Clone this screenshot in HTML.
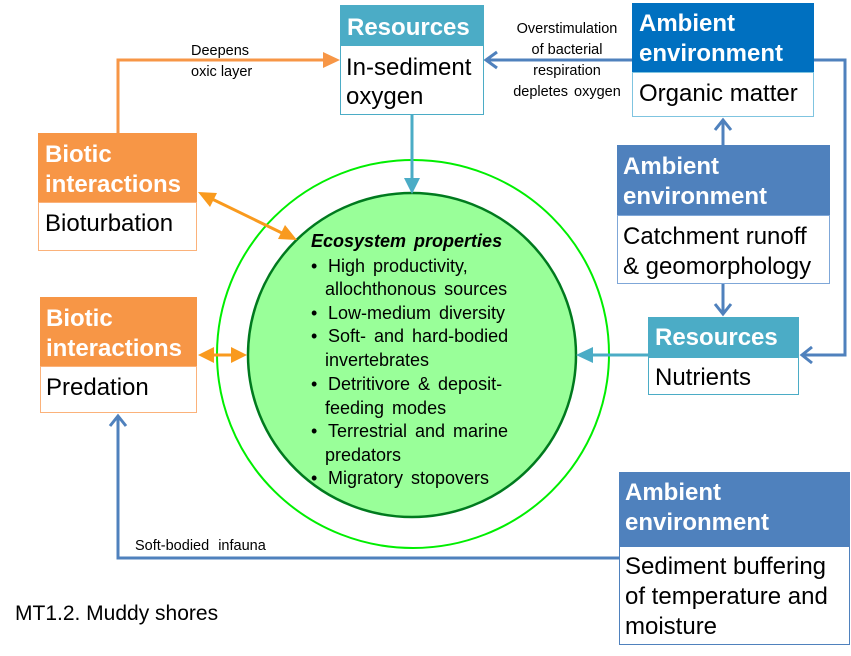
<!DOCTYPE html>
<html><head><meta charset="utf-8"><style>
body{margin:0;background:#fff}
svg{display:block}
.h{font-family:"Liberation Sans",sans-serif;font-weight:bold;font-size:24px;fill:#fff}
.b{font-family:"Liberation Sans",sans-serif;font-size:24px;fill:#000}
.s{font-family:"Liberation Sans",sans-serif;font-size:14.5px;fill:#000}
.e{font-family:"Liberation Sans",sans-serif;font-size:18px;fill:#000;word-spacing:3px}
</style></head><body>
<svg width="851" height="656" viewBox="0 0 851 656" xmlns="http://www.w3.org/2000/svg">
<ellipse cx="413" cy="354" rx="196" ry="194" fill="#fff" stroke="#00ee00" stroke-width="2"/>
<ellipse cx="412" cy="355" rx="164" ry="162" fill="#99ff99" stroke="#007a1e" stroke-width="2.5"/>
<g fill="none" stroke-width="3">
<polyline points="118,133 118,60 325,60" stroke="#f79646"/>
<polygon points="340,60 323,52 323,68" fill="#f79646" stroke="none"/>
<line x1="632" y1="60" x2="486" y2="60" stroke="#4f81bd"/>
<polyline points="497,52 486,60 497,68" stroke="#4f81bd"/>
<line x1="412" y1="114" x2="412" y2="180" stroke="#4bacc6"/>
<polygon points="412,194 404,178 420,178" fill="#4bacc6" stroke="none"/>
<line x1="723" y1="145" x2="723" y2="120" stroke="#4f81bd"/>
<polyline points="715,130 723,120 731,130" stroke="#4f81bd"/>
<line x1="723" y1="284" x2="723" y2="314" stroke="#4f81bd"/>
<polyline points="715,304 723,314 731,304" stroke="#4f81bd"/>
<polyline points="814,60 845,60 845,355 802,355" stroke="#4f81bd"/>
<polyline points="812,347 802,355 812,363" stroke="#4f81bd"/>
<line x1="648" y1="355" x2="590" y2="355" stroke="#4bacc6"/>
<polygon points="576,355 593,347 593,363" fill="#4bacc6" stroke="none"/>
<line x1="210" y1="198" x2="284" y2="234" stroke="#f99a1e"/>
<polygon points="198,192 217,193 210,207" fill="#f99a1e" stroke="none"/>
<polygon points="297,240 278,239 285,225" fill="#f99a1e" stroke="none"/>
<line x1="210" y1="355" x2="234" y2="355" stroke="#f99a1e"/>
<polygon points="198,355 214,347 214,363" fill="#f99a1e" stroke="none"/>
<polygon points="247,355 231,347 231,363" fill="#f99a1e" stroke="none"/>
<polyline points="619,558 118,558 118,416" stroke="#4f81bd"/>
<polyline points="110,426 118,416 126,426" stroke="#4f81bd"/>
</g>
<rect x="340.5" y="45.5" width="143" height="69" fill="#fff" stroke="#4bacc6"/>
<rect x="340" y="5" width="144" height="40" fill="#4bacc6"/>
<text class="h" x="347" y="35">Resources</text>
<text class="b" x="346" y="75">In-sediment</text>
<text class="b" x="346" y="104">oxygen</text>

<rect x="632.5" y="72.5" width="181" height="44" fill="#fff" stroke="#7fc4e0"/>
<rect x="632" y="3" width="182" height="69" fill="#0070c0"/>
<text class="h" x="639" y="31">Ambient</text>
<text class="h" x="639" y="61">environment</text>
<text class="b" x="639" y="101">Organic matter</text>

<rect x="617.5" y="215.5" width="212" height="68" fill="#fff" stroke="#7fa7d8"/>
<rect x="617" y="145" width="213" height="70" fill="#4f81bd"/>
<text class="h" x="623" y="174">Ambient</text>
<text class="h" x="623" y="204">environment</text>
<text class="b" x="623" y="244">Catchment runoff</text>
<text class="b" x="623" y="274">&amp; geomorphology</text>

<rect x="648.5" y="357.5" width="150" height="37" fill="#fff" stroke="#4bacc6"/>
<rect x="648" y="317" width="151" height="40" fill="#4bacc6"/>
<text class="h" x="655" y="345">Resources</text>
<text class="b" x="655" y="385">Nutrients</text>

<rect x="619.5" y="546.5" width="230" height="98" fill="#fff" stroke="#4f81bd"/>
<rect x="619" y="472" width="231" height="74" fill="#4f81bd"/>
<text class="h" x="625" y="500">Ambient</text>
<text class="h" x="625" y="530">environment</text>
<text class="b" x="625" y="574">Sediment buffering</text>
<text class="b" x="625" y="604">of temperature and</text>
<text class="b" x="625" y="634">moisture</text>

<rect x="38.5" y="202.5" width="158" height="48" fill="#fff" stroke="#fbb27a"/>
<rect x="38" y="133" width="159" height="69" fill="#f79646"/>
<text class="h" x="45" y="162">Biotic</text>
<text class="h" x="45" y="192">interactions</text>
<text class="b" x="45" y="231">Bioturbation</text>

<rect x="40.5" y="366.5" width="156" height="46" fill="#fff" stroke="#fbb27a"/>
<rect x="40" y="297" width="157" height="69" fill="#f79646"/>
<text class="h" x="46" y="326">Biotic</text>
<text class="h" x="46" y="356">interactions</text>
<text class="b" x="46" y="395">Predation</text>

<text class="s" x="191" y="55">Deepens</text>
<text class="s" x="191" y="76">oxic layer</text>
<text class="s" x="567" y="33" text-anchor="middle">Overstimulation</text>
<text class="s" x="567" y="54" text-anchor="middle">of bacterial</text>
<text class="s" x="567" y="75" text-anchor="middle">respiration</text>
<text class="s" x="567" y="96" text-anchor="middle" style="word-spacing:2px">depletes oxygen</text>
<text class="s" x="135" y="550" style="word-spacing:5px">Soft-bodied infauna</text>
<text x="15" y="620" style="font-family:'Liberation Sans',sans-serif;font-size:21px">MT1.2. Muddy shores</text>

<text class="e" x="311" y="247" style="font-weight:bold;font-style:italic">Ecosystem properties</text>
<text class="e" x="311" y="272">•</text><text class="e" x="328" y="272">High productivity,</text>
<text class="e" x="325" y="295">allochthonous sources</text>
<text class="e" x="311" y="319">•</text><text class="e" x="328" y="319">Low-medium diversity</text>
<text class="e" x="311" y="342">•</text><text class="e" x="328" y="342">Soft- and hard-bodied</text>
<text class="e" x="325" y="366">invertebrates</text>
<text class="e" x="311" y="390">•</text><text class="e" x="328" y="390">Detritivore &amp; deposit-</text>
<text class="e" x="325" y="414">feeding modes</text>
<text class="e" x="311" y="437">•</text><text class="e" x="328" y="437">Terrestrial and marine</text>
<text class="e" x="325" y="461">predators</text>
<text class="e" x="311" y="484">•</text><text class="e" x="328" y="484">Migratory stopovers</text>
</svg>
</body></html>
